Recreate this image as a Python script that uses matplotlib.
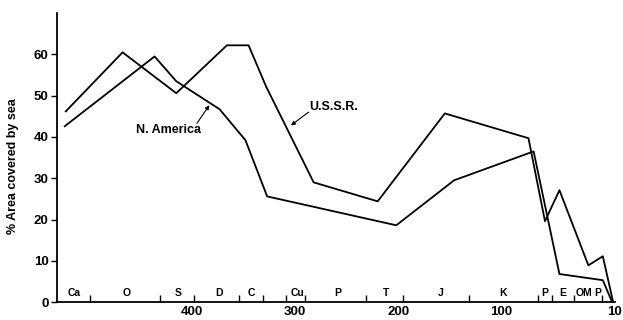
# Sea coverage of continents through geological time
import numpy as np
import matplotlib.pyplot as plt

plt.rcParams['font.family'] = ['Liberation Sans', 'DejaVu Sans']

# ages in Ma and % area covered by sea
ussr_age = [522, 467, 415, 366, 345, 328, 282, 220, 155, 74, 58, 44, 16, 2, -8]
ussr_val = [46.2, 60.5, 50.6, 62.2, 62.2, 52.2, 29.0, 24.4, 45.7, 39.7, 19.6, 27.1, 8.9, 11.1, 0]

na_age = [523, 436, 415, 373, 348, 327, 202, 146, 69, 44, 2, -7]
na_val = [42.6, 59.5, 53.5, 46.7, 39.2, 25.6, 18.6, 29.5, 36.5, 6.8, 5.3, 0]

# geological periods along the base
period_names = ['Ca', 'O', 'S', 'D', 'C', 'Cu', 'P', 'T', 'J', 'K', 'P', 'E', 'OM', 'P']
period_pos = [514, 463, 413, 374, 342, 298, 259, 212, 159, 99, 58, 41, 20, 7]
boundaries = [499, 431, 398, 354, 331, 309, 290, 231, 195, 132, 65, 51, 30, 3]

xticks = [400, 300, 200, 100, -9]
xtick_labels = ['400', '300', '200', '100', '10']
yticks = [0, 10, 20, 30, 40, 50, 60]

fig = plt.figure(figsize=(6.23, 3.2), dpi=100)
ax = fig.add_axes([0.0915, 0.056, 0.896, 0.903])

ax.plot(ussr_age, ussr_val, color='black', lw=1.3)
ax.plot(na_age, na_val, color='black', lw=1.3)

# period boundary marks and names
ax.vlines(boundaries, 0, 1.7, color='black', lw=1.0)
for name, pos in zip(period_names, period_pos):
    ax.text(pos, 2.1, name, ha='center', va='center', fontsize=7.5, fontweight='bold')

# labels with arrows
ax.text(423, 41.6, 'N. America', ha='center', va='center', fontsize=9, fontweight='bold')
ax.annotate('', xy=(383, 47.7), xytext=(395, 43.3),
            arrowprops=dict(arrowstyle='-|>', color='black', lw=0.8,
                            mutation_scale=6, shrinkA=0, shrinkB=0))
ax.text(263, 47.2, 'U.S.S.R.', ha='center', va='center', fontsize=9, fontweight='bold')
ax.annotate('', xy=(304, 42.8), xytext=(287, 46),
            arrowprops=dict(arrowstyle='-|>', color='black', lw=0.8,
                            mutation_scale=6, shrinkA=0, shrinkB=0))

ax.set_xlim(530.5, -10)
ax.set_ylim(0, 70)
ax.set_xticks(xticks)
ax.set_xticklabels(xtick_labels, fontsize=9.5, fontweight='bold')
ax.set_yticks(yticks)
ax.set_yticklabels([str(v) for v in yticks], fontsize=9.5, fontweight='bold')
ax.tick_params(axis='x', length=0, pad=2.5)
ax.tick_params(axis='y', length=4, width=1.0, pad=2)

ax.set_ylabel('% Area covered by sea', fontsize=9, fontweight='bold')
ax.yaxis.set_label_coords(-0.068, 0.47)

ax.spines['top'].set_visible(False)
ax.spines['right'].set_visible(False)
ax.spines['left'].set_linewidth(1.3)
ax.spines['bottom'].set_linewidth(1.3)

plt.savefig('out.png', dpi=100)
